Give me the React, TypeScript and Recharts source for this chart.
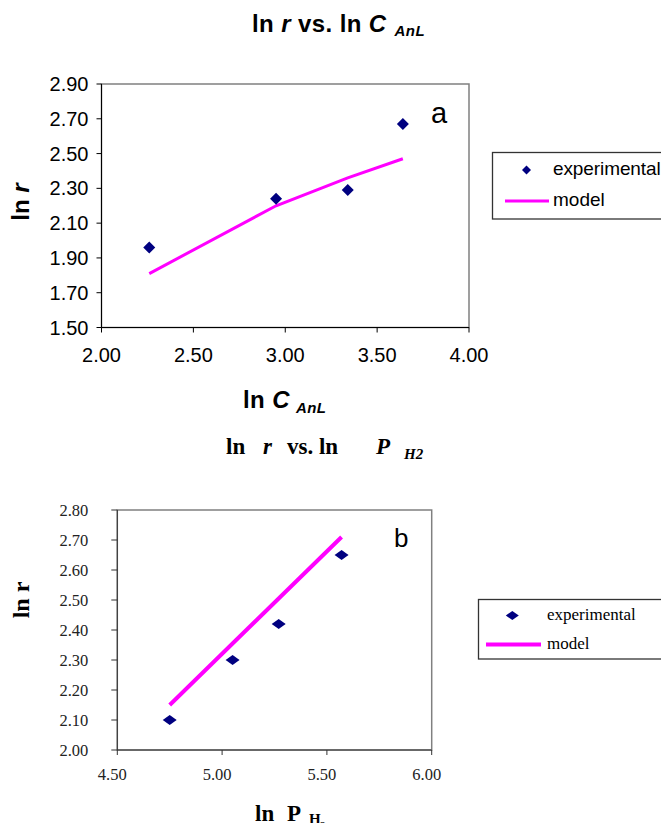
import React from "react"
import { ComposedChart, Scatter, Line, XAxis, YAxis, ReferenceArea } from "recharts"

// chart a: ln r vs. ln C_AnL
const anlX = [2.26, 2.95, 3.34, 3.64]
const anlExp = [1.96, 2.24, 2.29, 2.67]
const anlModel = [1.81, 2.2, 2.36, 2.47]
const anlXTicks = [2.0, 2.5, 3.0, 3.5, 4.0]
const anlYTicks = [1.5, 1.7, 1.9, 2.1, 2.3, 2.5, 2.7, 2.9]

// chart b: ln r vs. ln P_H2
const h2X = [4.75, 5.05, 5.27, 5.57]
const h2Exp = [2.1, 2.3, 2.42, 2.65]
const h2Model = [2.15, 2.355, 2.505, 2.71]
const h2XTicks = [4.5, 5.0, 5.5, 6.0]
const h2YTicks = [2.0, 2.1, 2.2, 2.3, 2.4, 2.5, 2.6, 2.7, 2.8]

const NAVY = "#000080"
const MAGENTA = "#FF00FF"
const SANS = "'Liberation Sans', Arial, sans-serif"
const SERIF = "'Liberation Serif', 'Times New Roman', serif"

const anlData = anlX.map((x, i) => ({ x, exp: anlExp[i], model: anlModel[i] }))
const h2Data = h2X.map((x, i) => ({ x, exp: h2Exp[i], model: h2Model[i] }))

const fmt = (v: number) => v.toFixed(2)

const diamond = (w: number, h: number) => (props: any) => {
  const { cx, cy } = props
  if (cx == null || cy == null) return <g />
  return (
    <polygon
      points={`${cx},${cy - h / 2} ${cx + w / 2},${cy} ${cx},${cy + h / 2} ${cx - w / 2},${cy}`}
      fill={NAVY}
    />
  )
}

const Overlay = () => (
  <svg
    width={669}
    height={831}
    style={{ position: "absolute", left: 0, top: 0, pointerEvents: "none" }}
  >
    {/* chart a texts */}
    <text x={252} y={32} fontFamily={SANS} fontWeight="bold" fontSize={24} letterSpacing={0.4} fill="#000">
      <tspan>ln </tspan>
      <tspan fontStyle="italic">r</tspan>
      <tspan> vs. ln </tspan>
      <tspan fontStyle="italic">C</tspan>
      <tspan fontStyle="italic" fontSize={15} dx={8} dy={4}>AnL</tspan>
    </text>
    <text
      transform="translate(20,202) rotate(-90)"
      textAnchor="middle"
      dominantBaseline="central"
      fontFamily={SANS}
      fontWeight="bold"
      fontSize={24}
    >
      <tspan>ln </tspan>
      <tspan fontStyle="italic">r</tspan>
    </text>
    <text x={243} y={408} fontFamily={SANS} fontWeight="bold" fontSize={24} letterSpacing={0.4}>
      <tspan>ln </tspan>
      <tspan fontStyle="italic">C</tspan>
      <tspan fontStyle="italic" fontSize={15} dx={6} dy={5}>AnL</tspan>
    </text>
    <text x={431} y={123} fontFamily={SANS} fontSize={29}>a</text>

    <rect x={492.5} y={152.5} width={220} height={66.5} fill="#fff" stroke="#333" strokeWidth={1.3} />
    <polygon points="526.5,165.5 531,170 526.5,174.5 522,170" fill={NAVY} />
    <text x={553} y={174.5} fontFamily={SANS} fontSize={19} letterSpacing={-0.1}>experimental</text>
    <line x1={505} y1={201} x2={549} y2={201} stroke={MAGENTA} strokeWidth={3} />
    <text x={553} y={206} fontFamily={SANS} fontSize={19}>model</text>

    {/* chart b texts */}
    <text y={454} fontFamily={SERIF} fontWeight="bold" fontSize={23}>
      <tspan x={226}>ln</tspan>
      <tspan x={263} fontStyle="italic">r</tspan>
      <tspan x={287}>vs. ln</tspan>
      <tspan x={376} fontStyle="italic">P</tspan>
      <tspan x={404} y={459} fontStyle="italic" fontSize={15}>H2</tspan>
    </text>
    <text
      transform="translate(21,600) rotate(-90)"
      textAnchor="middle"
      dominantBaseline="central"
      fontFamily={SERIF}
      fontWeight="bold"
      fontSize={24}
    >
      ln r
    </text>
    <text y={821} fontFamily={SERIF} fontWeight="bold" fontSize={23}>
      <tspan x={255}>ln</tspan>
      <tspan x={287}>P</tspan>
      <tspan x={309} y={824} fontSize={15}>H</tspan>
      <tspan x={320} y={829} fontSize={11}>2</tspan>
    </text>
    <text x={394} y={547} fontFamily={SANS} fontSize={26}>b</text>

    <rect x={478.5} y={599.5} width={220} height={59.5} fill="#fff" stroke="#333" strokeWidth={1.3} />
    <polygon points="512.3,611 518.8,615.5 512.3,620 505.8,615.5" fill={NAVY} />
    <text x={547} y={619.5} fontFamily={SERIF} fontSize={17}>experimental</text>
    <line x1={486} y1={644.5} x2={541} y2={644.5} stroke={MAGENTA} strokeWidth={4} />
    <text x={547} y={649} fontFamily={SERIF} fontSize={17}>model</text>
  </svg>
)

export default function App() {
  return (
    <div
      style={{
        position: "relative",
        margin: -8,
        width: 669,
        height: 831,
        overflow: "hidden",
        background: "#fff",
      }}
    >
      <div style={{ position: "absolute", left: 0, top: 0 }}>
        <ComposedChart
          width={669}
          height={420}
          data={anlData}
          margin={{ top: 84, right: 200, bottom: 52.5, left: 41.5 }}
        >
          <ReferenceArea x1={2} x2={4} y1={1.5} y2={2.9} fill="none" stroke="#808080" strokeWidth={1.5} />
          <XAxis
            type="number"
            dataKey="x"
            domain={[2, 4]}
            ticks={anlXTicks}
            tickFormatter={fmt}
            height={40}
            tickSize={5}
            tickMargin={15}
            stroke="#000"
            tick={{ fill: "#000", fontSize: 20, fontFamily: SANS }}
            allowDataOverflow
          />
          <YAxis
            type="number"
            domain={[1.5, 2.9]}
            ticks={anlYTicks}
            tickFormatter={fmt}
            width={60}
            tickSize={5}
            tickMargin={8}
            stroke="#000"
            tick={{ fill: "#000", fontSize: 20, fontFamily: SANS }}
            allowDataOverflow
          />
          <Line
            dataKey="model"
            type="linear"
            stroke={MAGENTA}
            strokeWidth={3}
            dot={false}
            activeDot={false}
            isAnimationActive={false}
          />
          <Scatter dataKey="exp" fill={NAVY} shape={diamond(12, 12)} isAnimationActive={false} />
        </ComposedChart>
      </div>

      <div style={{ position: "absolute", left: 0, top: 420 }}>
        <ComposedChart
          width={669}
          height={411}
          data={h2Data}
          margin={{ top: 90, right: 237.3, bottom: 41, left: 57.3 }}
        >
          <ReferenceArea x1={4.5} x2={6} y1={2} y2={2.8} fill="none" stroke="#808080" strokeWidth={1.5} />
          <XAxis
            type="number"
            dataKey="x"
            domain={[4.5, 6]}
            ticks={h2XTicks}
            tickFormatter={fmt}
            height={40}
            tickSize={5}
            tickMargin={13}
            stroke="#333"
            tick={{ fill: "#222", fontSize: 16.5, fontFamily: SERIF, dx: -5 }}
            allowDataOverflow
          />
          <YAxis
            type="number"
            domain={[2, 2.8]}
            ticks={h2YTicks}
            tickFormatter={fmt}
            width={60}
            tickSize={6}
            tickMargin={23}
            stroke="#333"
            tick={{ fill: "#222", fontSize: 16.5, fontFamily: SERIF }}
            allowDataOverflow
          />
          <Line
            dataKey="model"
            type="linear"
            stroke={MAGENTA}
            strokeWidth={4}
            dot={false}
            activeDot={false}
            isAnimationActive={false}
          />
          <Scatter dataKey="exp" fill={NAVY} shape={diamond(14, 10)} isAnimationActive={false} />
        </ComposedChart>
      </div>

      <Overlay />
    </div>
  )
}
